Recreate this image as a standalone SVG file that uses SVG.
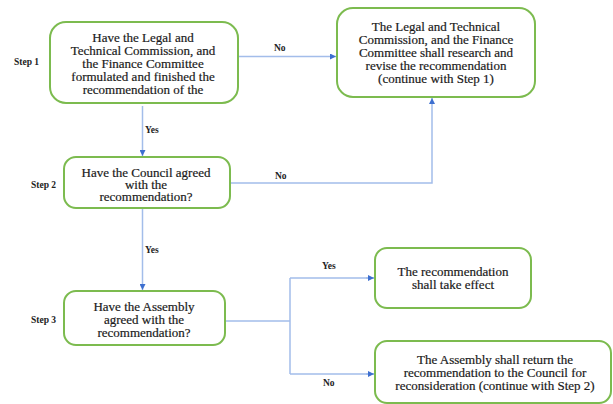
<svg xmlns="http://www.w3.org/2000/svg" width="613" height="404" viewBox="0 0 613 404">
<defs>
<marker id="arr" viewBox="0 0 10 10" refX="10" refY="5" markerWidth="6" markerHeight="6" markerUnits="userSpaceOnUse" orient="auto"><path d="M0,0 L10,5 L0,10 z" fill="#3d6fd0"/></marker>
<style>
.box{fill:#fff;stroke:#7cbb4f;stroke-width:2}
.c{fill:none;stroke:#a3bdea;stroke-width:1.5}
</style>
</defs>
<rect width="613" height="404" fill="#fff"/>
<g id="connectors">
<path class="c" d="M238,56.5 H336" marker-end="url(#arr)"/>
<path class="c" d="M142.5,106 V156" marker-end="url(#arr)"/>
<path class="c" d="M230,183 H432 V98" marker-end="url(#arr)"/>
<path class="c" d="M142.5,208 V290" marker-end="url(#arr)"/>
<path class="c" d="M225,321 H290 M290,278 V374 M290,278 H374 M290,374 H374"/>
<path class="c" d="M366,278 H374" marker-end="url(#arr)"/>
<path class="c" d="M366,374 H374" marker-end="url(#arr)"/>
<g font-family="Liberation Serif" font-size="9.5" font-weight="bold" fill="#222">
<text x="274" y="51">No</text>
<text x="145" y="133">Yes</text>
<text x="275" y="179">No</text>
<text x="145" y="253">Yes</text>
<text x="322" y="269">Yes</text>
<text x="323" y="386">No</text>
</g>
</g>
<g id="step-labels" font-family="Liberation Serif" font-size="9.5" font-weight="bold" fill="#222">
<text x="14" y="65">Step 1</text>
<text x="31" y="188">Step 2</text>
<text x="31" y="323">Step 3</text>
</g>
<g font-family="Liberation Serif" font-size="13" fill="#1a1a1a" stroke="#1a1a1a" stroke-width="0.2" text-anchor="middle">
<g id="n1">
<rect class="box" x="50" y="22" width="188" height="81" rx="16"/>
<text x="143" y="41.5">Have the Legal and</text>
<text x="143" y="54.5">Technical Commission, and</text>
<text x="143" y="67.5">the Finance Committee</text>
<text x="143" y="80.5">formulated and finished the</text>
<text x="143" y="93.5">recommendation of the</text>
</g>
<g id="n2">
<rect class="box" x="64" y="157" width="166" height="51" rx="12"/>
<text x="146" y="176.5">Have the Council agreed</text>
<text x="146" y="188.5">with the</text>
<text x="146" y="201">recommendation?</text>
</g>
<g id="n3">
<rect class="box" x="64" y="291" width="161" height="54" rx="12"/>
<text x="144" y="310.5">Have the Assembly</text>
<text x="144" y="323.5">agreed with the</text>
<text x="144" y="336.5">recommendation?</text>
</g>
<g id="n4">
<rect class="box" x="337" y="8" width="198" height="89" rx="16"/>
<text x="436" y="30.5">The Legal and Technical</text>
<text x="436" y="43.5">Commission, and the Finance</text>
<text x="436" y="56.5">Committee shall research and</text>
<text x="436" y="69.5">revise the recommendation</text>
<text x="436" y="83">(continue with Step 1)</text>
</g>
<g id="n5">
<rect class="box" x="375" y="248" width="156" height="60" rx="12"/>
<text x="453" y="275.5">The recommendation</text>
<text x="453" y="288.5">shall take effect</text>
</g>
<g id="n6">
<rect class="box" x="375" y="341" width="236" height="62" rx="12"/>
<text x="495" y="363.5">The Assembly shall return the</text>
<text x="495" y="376.5">recommendation to the Council for</text>
<text x="495" y="389.5">reconsideration (continue with Step 2)</text>
</g>
</g>
</svg>
